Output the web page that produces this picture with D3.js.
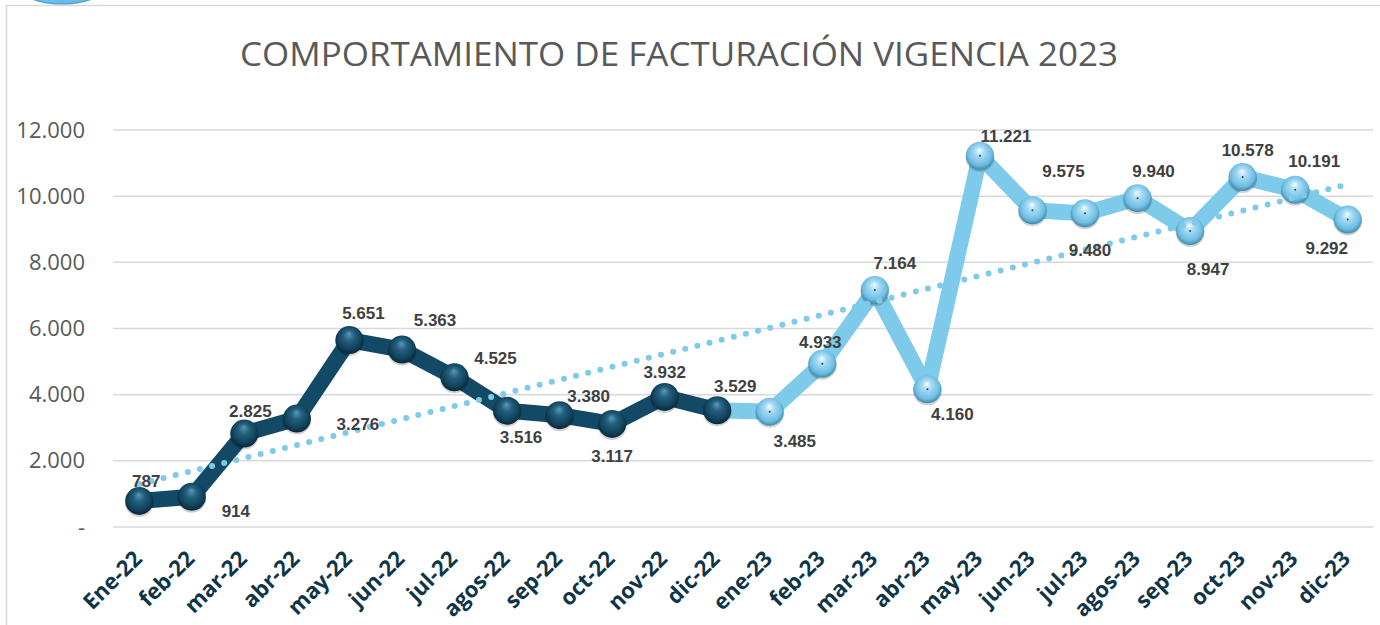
<!DOCTYPE html>
<html lang="es">
<head>
<meta charset="utf-8">
<title>Comportamiento de facturación</title>
<script src="https://cdn.jsdelivr.net/npm/d3@7/dist/d3.min.js"></script>
<style>
  body { margin: 0; background: #fff; }
  svg { display: block; }
</style>
</head>
<body>
<script>
// meses
var months = ["Ene-22","feb-22","mar-22","abr-22","may-22","jun-22","jul-22","agos-22","sep-22","oct-22","nov-22","dic-22",
              "ene-23","feb-23","mar-23","abr-23","may-23","jun-23","jul-23","agos-23","sep-23","oct-23","nov-23","dic-23"];
var values2022 = [787, 914, 2825, 3276, 5651, 5363, 4525, 3516, 3380, 3117, 3932, 3529];
var values2023 = [3485, 4933, 7164, 4160, 11221, 9575, 9480, 9940, 8947, 10578, 10191, 9292];
var yTicks = [0, 2000, 4000, 6000, 8000, 10000, 12000];

// label offsets from the ball (px)
var labelDx = [7, 44, 6, 61, 14, 33, 41, 14, 29, 0, 0, 18, 25, -2, 20, 25, 26, 31, 5, 16, 18, 5, 19, -21];
var labelDy = [-14, 20, -17, 11, -21, -24, -13, 32, -13, 38, -19, -18, 35, -16, -21, 31, -14, -33, 43, -21, 44, -21, -23, 34];

var width = 1380, height = 625;
var svg = d3.select("body").append("svg").attr("width", width).attr("height", height);

var all = values2022.concat(values2023);
var x = d3.scalePoint().domain(months).range([113, 1374]).padding(0.5);
var y = d3.scaleLinear().domain([0, 12000]).range([527, 130]);

var fmt = function(v) { return v === 0 ? "-" : d3.format(",")(v).replace(/,/g, "."); };

// frame + bit of shape peeking at top-left
svg.append("ellipse").attr("cx", 62).attr("cy", -22).attr("rx", 50).attr("ry", 26)
  .attr("fill", "#6cbbe9").attr("stroke", "#4fa3d6").attr("stroke-width", 1.5);
svg.append("path").attr("d", "M6.5,625V5.5H1380").attr("fill", "none")
  .attr("stroke", "#d9d9d9").attr("stroke-width", 1.5);

var defs = svg.append("defs");
var gDark = defs.append("radialGradient").attr("id", "ballDark")
  .attr("cx", "50%").attr("cy", "45%").attr("r", "55%").attr("fx", "48%").attr("fy", "28%");
gDark.append("stop").attr("offset", "0%").attr("stop-color", "#5d97b4");
gDark.append("stop").attr("offset", "35%").attr("stop-color", "#22607f");
gDark.append("stop").attr("offset", "80%").attr("stop-color", "#103f57");
gDark.append("stop").attr("offset", "100%").attr("stop-color", "#082636");
var gLight = defs.append("radialGradient").attr("id", "ballLight")
  .attr("cx", "50%").attr("cy", "45%").attr("r", "55%").attr("fx", "48%").attr("fy", "30%");
gLight.append("stop").attr("offset", "0%").attr("stop-color", "#f4fbff");
gLight.append("stop").attr("offset", "30%").attr("stop-color", "#a9dcf3");
gLight.append("stop").attr("offset", "78%").attr("stop-color", "#6dbde3");
gLight.append("stop").attr("offset", "100%").attr("stop-color", "#3f87aa");

// title
svg.append("text").attr("x", 679).attr("y", 66).attr("text-anchor", "middle")
  .attr("font-family", "'Open Sans', sans-serif").attr("font-size", 33).attr("fill", "#595959")
  .attr("textLength", 878).attr("lengthAdjust", "spacingAndGlyphs")
  .text("COMPORTAMIENTO DE FACTURACIÓN VIGENCIA 2023");

// grid + y labels
svg.append("g").selectAll("line").data(yTicks).join("line")
  .attr("x1", 113).attr("x2", 1373).attr("y1", d => y(d)).attr("y2", d => y(d))
  .attr("stroke", "#d9d9d9").attr("stroke-width", 1.5);
svg.append("g").selectAll("text").data(yTicks).join("text")
  .attr("x", 85).attr("y", d => y(d) + 7.5).attr("text-anchor", "end")
  .attr("font-family", "'Open Sans', sans-serif").attr("font-size", 22).attr("fill", "#595959")
  .text(fmt);

// x labels
svg.append("g").selectAll("text").data(months).join("text")
  .attr("transform", d => "translate(" + (x(d) + 4) + ",560) rotate(-45)")
  .attr("text-anchor", "end")
  .attr("font-family", "'Open Sans', sans-serif").attr("font-weight", "bold")
  .attr("font-size", 22).attr("fill", "#0e3548")
  .text(d => d);

var pts = all.map((v, i) => ({ m: months[i], v: v, i: i }));
var line = d3.line().x(d => x(d.m)).y(d => y(d.v));

svg.append("path").datum(pts.slice(0, 12)).attr("d", line)
  .attr("fill", "none").attr("stroke", "#124a66").attr("stroke-width", 16).attr("stroke-linejoin", "round");
svg.append("path").datum(pts.slice(11)).attr("d", line)
  .attr("fill", "none").attr("stroke", "#7ecaea").attr("stroke-width", 16).attr("stroke-linejoin", "round");

// balls
var balls = svg.append("g").selectAll("g").data(pts).join("g")
  .attr("transform", d => "translate(" + x(d.m) + "," + y(d.v) + ")");
balls.append("circle").attr("r", 14.5).attr("cy", 1.5).attr("fill", "rgba(0,0,0,0.18)");
balls.append("circle").attr("r", 14)
  .attr("fill", d => d.i < 12 ? "url(#ballDark)" : "url(#ballLight)");
balls.filter(d => d.i >= 12).append("circle").attr("r", 1).attr("fill", "#1b4b62");

// linear trend over all points
var n = all.length, mx = (n - 1) / 2, my = d3.mean(all);
var slope = d3.sum(all, (v, i) => (i - mx) * (v - my)) / d3.sum(all, (v, i) => (i - mx) * (i - mx));
var t0 = my - slope * mx;
svg.append("line")
  .attr("x1", x(months[0])).attr("y1", y(t0))
  .attr("x2", x(months[n - 1])).attr("y2", y(t0 + slope * (n - 1)))
  .attr("stroke", "#7ecaea").attr("stroke-width", 6).attr("stroke-linecap", "round")
  .attr("stroke-dasharray", "0 12.5");

// data labels
svg.append("g").selectAll("text").data(pts).join("text")
  .attr("x", d => x(d.m) + labelDx[d.i]).attr("y", d => y(d.v) + labelDy[d.i])
  .attr("text-anchor", "middle")
  .attr("font-family", "'Liberation Sans', Arial, sans-serif").attr("font-weight", "bold")
  .attr("font-size", 17).attr("fill", "#404040")
  .text(d => fmt(d.v));
</script>
</body>
</html>
